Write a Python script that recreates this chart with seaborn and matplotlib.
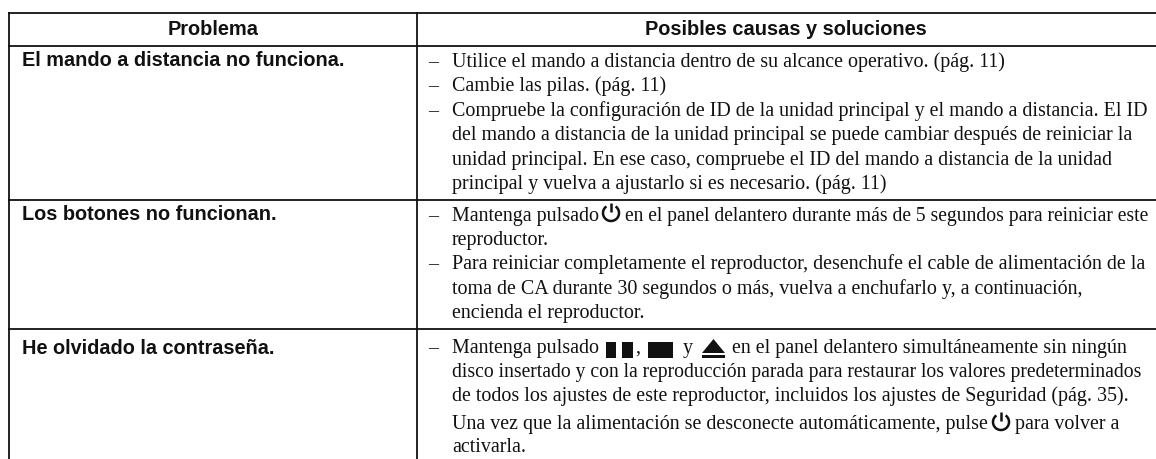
import matplotlib
matplotlib.use('Agg')
import matplotlib.pyplot as plt
import matplotlib.patches as mpatches
import seaborn as sns

sns.set_theme(style="white")
plt.rcParams['font.family'] = ['Liberation Serif', 'DejaVu Serif']

headers = ['Problema', 'Posibles causas y soluciones']
problems = ['El mando a distancia no funciona.', 'Los botones no funcionan.', 'He olvidado la contraseña.']

# (baseline y, dash?, text)
row1_lines = [
    (67, True, 'Utilice el mando a distancia dentro de su alcance operativo. (pág. 11)'),
    (91, True, 'Cambie las pilas. (pág. 11)'),
    (116, True, 'Compruebe la configuración de ID de la unidad principal y el mando a distancia. El ID'),
    (140, False, 'del mando a distancia de la unidad principal se puede cambiar después de reiniciar la'),
    (165, False, 'unidad principal. En ese caso, compruebe el ID del mando a distancia de la unidad'),
    (189, False, 'principal y vuelva a ajustarlo si es necesario. (pág. 11)'),
]
row2_lines = [
    (245, False, 'reproductor.'),
    (269, True, 'Para reiniciar completamente el reproductor, desenchufe el cable de alimentación de la'),
    (294, False, 'toma de CA durante 30 segundos o más, vuelva a enchufarlo y, a continuación,'),
    (318, False, 'encienda el reproductor.'),
]
row3_lines = [
    (401, False, 'de todos los ajustes de este reproductor, incluidos los ajustes de Seguridad (pág. 35).'),
    (452, False, 'activarla.'),
]

FS = 14.4
FS_TIGHT = 14.1  # these two lines run a bit narrower in the original
TX = 452
DX = 428


def power_icon(ax, cx, cy, r=8):
    ax.add_patch(mpatches.Arc((cx, cy), 2 * r, 2 * r, theta1=-55, theta2=235, color='#111111', lw=1.8))
    ax.plot([cx, cx], [cy - r - 2.5, cy - 1], color='#111111', lw=1.8, solid_capstyle='butt')


def put(ax, x, y, s, size=FS):
    ax.text(x, y, s, fontsize=size, color='#111111', va='baseline', ha='left')


fig, ax = plt.subplots(figsize=(11.56, 4.6), dpi=100)
fig.subplots_adjust(0, 0, 1, 1)
ax.set_xlim(0, 1156)
ax.set_ylim(460, 0)
ax.axis('off')

# rules
for y in [13.5, 46.5, 200.5, 330]:
    ax.plot([8, 1156], [y, y], color='#111111', lw=1.3, solid_capstyle='butt')
ax.plot([9, 9], [13, 460], color='#111111', lw=1.3, solid_capstyle='butt')
ax.plot([417, 417], [13, 460], color='#111111', lw=1.3, solid_capstyle='butt')

for x, s in zip([213, 786], headers):
    ax.text(x, 35, s, fontsize=14.4, fontweight='bold', family='Liberation Sans', ha='center', va='baseline', color='#111111')
for y, s in zip([66, 220, 354], problems):
    ax.text(22, y, s, fontsize=14.3, fontweight='bold', family='Liberation Sans', ha='left', va='baseline', color='#111111')

for y, dash, s in row1_lines + row2_lines + row3_lines:
    if dash:
        put(ax, DX, y, '–')
    put(ax, TX, y, s)
put(ax, TX, 377, 'disco insertado y con la reproducción parada para restaurar los valores predeterminados', FS_TIGHT)

# row 2 first line with icon
put(ax, DX, 221, '–')
put(ax, TX, 221, 'Mantenga pulsado')
power_icon(ax, 611, 214)
put(ax, 625, 221, 'en el panel delantero durante más de 5 segundos para reiniciar este', FS_TIGHT)

# row 3 first line with pause, stop and eject icons
put(ax, DX, 353, '–')
put(ax, TX, 353, 'Mantenga pulsado')
for x, w in [(606, 10), (622, 11), (648, 25)]:
    ax.add_patch(mpatches.Rectangle((x, 343), w, 16, color='#111111', lw=0))
put(ax, 635, 353, ',')
put(ax, 683, 353, 'y')
ax.add_patch(mpatches.Polygon([(702, 354), (725, 354), (713.5, 340)], closed=True, color='#111111', lw=0))
ax.add_patch(mpatches.Rectangle((702, 356), 23, 2.5, color='#111111', lw=0))
put(ax, 732, 353, 'en el panel delantero simultáneamente sin ningún')

# row 3 line with power icon
put(ax, TX, 429, 'Una vez que la alimentación se desconecte automáticamente, pulse')
power_icon(ax, 1001, 423)
put(ax, 1015, 429, 'para volver a')

fig.savefig('out.png', dpi=100)
